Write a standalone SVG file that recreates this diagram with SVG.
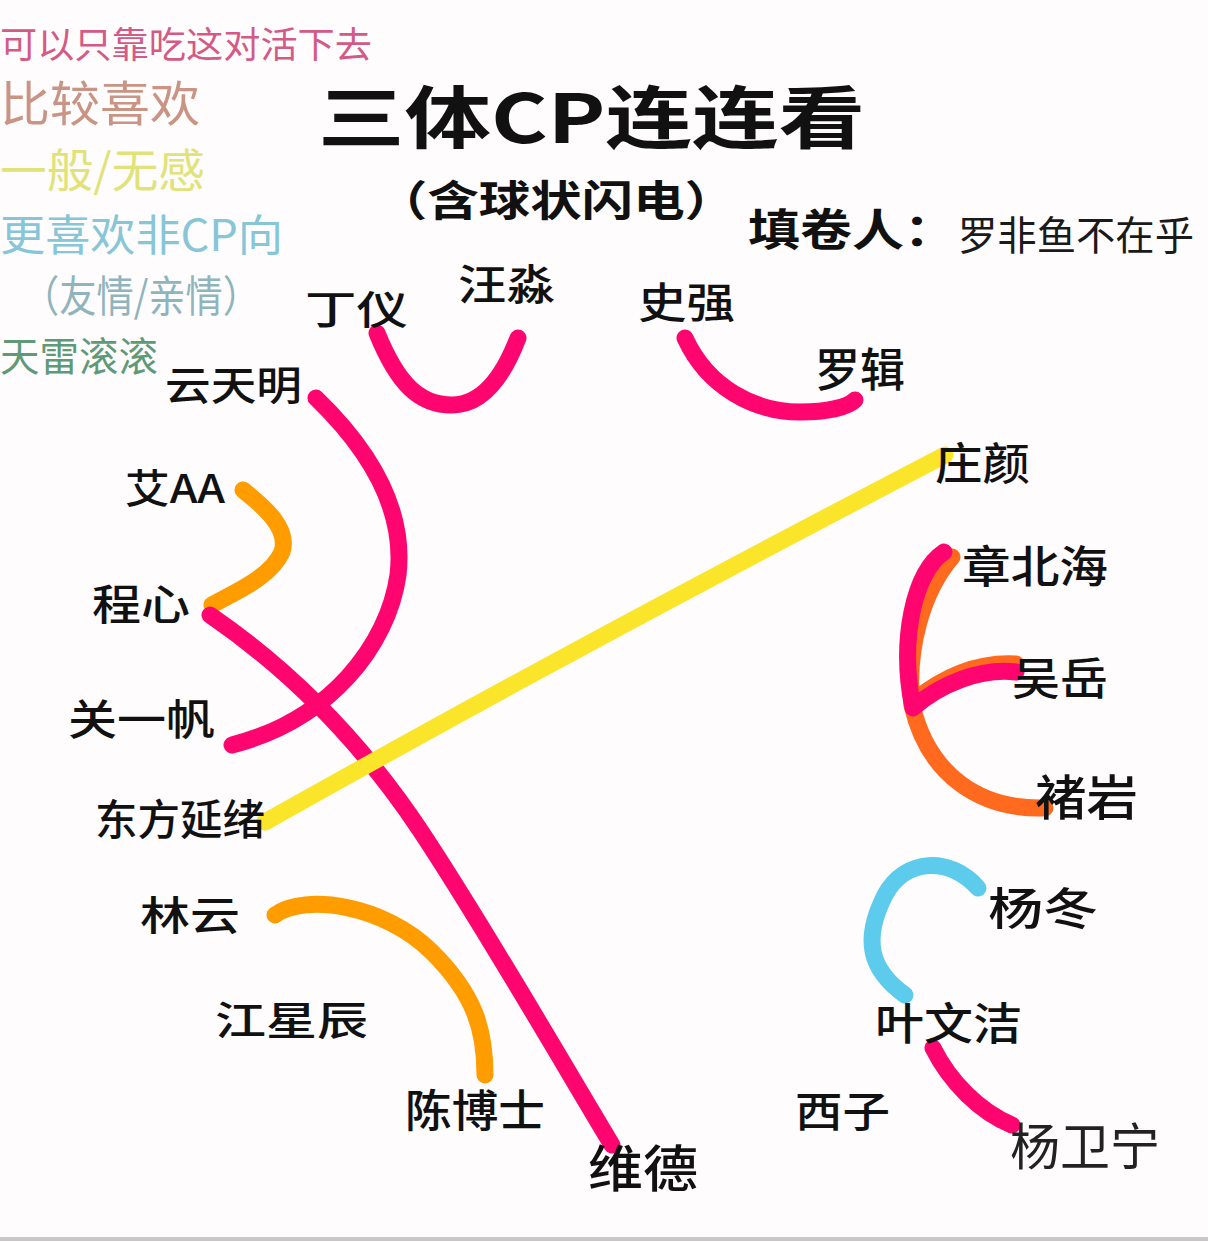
<svg xmlns="http://www.w3.org/2000/svg" width="1208" height="1242" viewBox="0 0 1208 1242">
<style>
.nm{font-family:"Noto Sans CJK SC","Noto Sans",sans-serif;font-weight:500;fill:#111;}
.lg{font-family:"Noto Sans CJK SC","Noto Sans",sans-serif;font-weight:400;}
.ttl{font-family:"Noto Sans CJK SC","Noto Sans",sans-serif;font-weight:700;fill:#111;}
.c{fill:none;stroke-linecap:round;stroke-linejoin:round;stroke-width:17;}
.pk{stroke:#fe0570;}
.or{stroke:#ff9c00;}
.rd{stroke:#ff6a1e;}
.ye{stroke:#fbe52a;}
.bl{stroke:#5ccbec;}
</style>
<rect width="1208" height="1242" fill="#fefcfd"/>
<line x1="0" y1="1239" x2="1208" y2="1239" stroke="#c8c8c8" stroke-width="4"/>

<g id="legend">
<text class="lg" x="0" y="58" font-size="36" fill="#d45a86" textLength="372" lengthAdjust="spacingAndGlyphs">可以只靠吃这对活下去</text>
<text class="lg" x="0" y="121" font-size="48" fill="#c99484" textLength="200" lengthAdjust="spacingAndGlyphs">比较喜欢</text>
<text class="lg" x="0" y="187" font-size="46" fill="#e2e27a" textLength="205" lengthAdjust="spacingAndGlyphs">一般/无感</text>
<text class="lg" x="0" y="251" font-size="43" fill="#86c6d6" textLength="283" lengthAdjust="spacingAndGlyphs">更喜欢非CP向</text>
<text class="lg" x="22" y="312" font-size="43" fill="#8fb4bc" textLength="238" lengthAdjust="spacingAndGlyphs">（友情/亲情）</text>
<text class="lg" x="0" y="371" font-size="40" fill="#5f9a78" textLength="158" lengthAdjust="spacingAndGlyphs">天雷滚滚</text>
</g>

<g id="title">
<text class="ttl" x="318" y="143" font-size="68" textLength="547" lengthAdjust="spacingAndGlyphs">三体CP连连看</text>
<text class="ttl" x="376" y="216" font-size="42" font-weight="500" textLength="360" lengthAdjust="spacingAndGlyphs">（含球状闪电）</text>
<text class="ttl" x="748" y="246" font-size="44" font-weight="700" textLength="208" lengthAdjust="spacingAndGlyphs">填卷人：</text>
<text class="lg" x="958" y="250" font-size="40" fill="#1a1a1a" textLength="236" lengthAdjust="spacingAndGlyphs">罗非鱼不在乎</text>
</g>

<g id="connectors">
<path class="c pk" d="M377,333 C398,385 420,405 452,405 C485,405 505,372 518,338"/>
<path class="c pk" d="M685,338 C708,388 755,412 800,412 C828,412 848,407 855,400"/>
<path class="c pk" d="M316,398 C375,455 405,515 398,575 C388,645 330,720 232,745"/>
<path class="c or" d="M243,490 C262,505 290,528 282,552 C270,578 235,592 212,605"/>
<path class="c pk" d="M210,615 C290,670 360,740 420,830 C480,920 555,1050 612,1145"/>
<path class="c ye" d="M265,822 C420,735 600,635 945,455"/>
<path class="c or" d="M275,915 C305,893 385,905 432,952 C475,995 485,1030 485,1075"/>
<path class="c rd" d="M952,557 C922,592 906,650 912,705 C928,775 980,810 1045,808"/>
<path class="c rd" d="M915,700 C945,676 980,662 1016,664"/>
<path class="c pk" d="M944,552 C914,572 899,640 913,708 C940,684 980,668 1016,672"/>
<path class="c bl" d="M978,888 C950,856 905,858 885,895 C862,940 870,970 905,995"/>
<path class="c pk" d="M933,1048 C950,1082 980,1112 1012,1125"/>
</g>

<g id="n-dingyi"><text class="nm" x="305" y="324" font-size="40" textLength="103" lengthAdjust="spacingAndGlyphs">丁仪</text></g>
<g id="n-wangmiao"><text class="nm" x="458" y="300" font-size="42" textLength="97" lengthAdjust="spacingAndGlyphs">汪淼</text></g>
<g id="n-shiqiang"><text class="nm" x="638" y="318" font-size="42" textLength="97" lengthAdjust="spacingAndGlyphs">史强</text></g>
<g id="n-luoji"><text class="nm" x="815" y="386" font-size="46" textLength="90" lengthAdjust="spacingAndGlyphs">罗辑</text></g>
<g id="n-yuntianming"><text class="nm" x="165" y="400" font-size="40" textLength="137" lengthAdjust="spacingAndGlyphs">云天明</text></g>
<g id="n-zhuangyan"><text class="nm" x="935" y="480" font-size="44" textLength="95" lengthAdjust="spacingAndGlyphs">庄颜</text></g>
<g id="n-aiaa"><text class="nm" x="125" y="503" font-size="40" textLength="100" lengthAdjust="spacingAndGlyphs">艾AA</text></g>
<g id="n-zhangbeihai"><text class="nm" x="962" y="583" font-size="44" textLength="146" lengthAdjust="spacingAndGlyphs">章北海</text></g>
<g id="n-chengxin"><text class="nm" x="92" y="620" font-size="42" textLength="98" lengthAdjust="spacingAndGlyphs">程心</text></g>
<g id="n-wuyue"><text class="nm" x="1012" y="695" font-size="44" textLength="96" lengthAdjust="spacingAndGlyphs">吴岳</text></g>
<g id="n-guanyifan"><text class="nm" x="68" y="735" font-size="42" textLength="147" lengthAdjust="spacingAndGlyphs">关一帆</text></g>
<g id="n-dongfangyanxu"><text class="nm" x="95" y="835" font-size="42" textLength="170" lengthAdjust="spacingAndGlyphs">东方延绪</text></g>
<g id="n-chuyan"><text class="nm" x="1035" y="815" font-size="48" textLength="103" lengthAdjust="spacingAndGlyphs">褚岩</text></g>
<g id="n-linyun"><text class="nm" x="140" y="930" font-size="40" textLength="100" lengthAdjust="spacingAndGlyphs">林云</text></g>
<g id="n-yangdong"><text class="nm" x="988" y="925" font-size="44" textLength="110" lengthAdjust="spacingAndGlyphs">杨冬</text></g>
<g id="n-jiangxingchen"><text class="nm" x="215" y="1035" font-size="40" textLength="153" lengthAdjust="spacingAndGlyphs">江星辰</text></g>
<g id="n-yewenjie"><text class="nm" x="875" y="1040" font-size="44" textLength="147" lengthAdjust="spacingAndGlyphs">叶文洁</text></g>
<g id="n-chenboshi"><text class="nm" x="405" y="1127" font-size="44" textLength="140" lengthAdjust="spacingAndGlyphs">陈博士</text></g>
<g id="n-xizi"><text class="nm" x="795" y="1127" font-size="42" textLength="95" lengthAdjust="spacingAndGlyphs">西子</text></g>
<g id="n-weide"><text class="nm" x="588" y="1187" font-size="50" textLength="110" lengthAdjust="spacingAndGlyphs">维德</text></g>
<g id="n-yangweining"><text class="lg" x="1010" y="1165" font-size="50" fill="#222" textLength="150" lengthAdjust="spacingAndGlyphs">杨卫宁</text></g>
</svg>
